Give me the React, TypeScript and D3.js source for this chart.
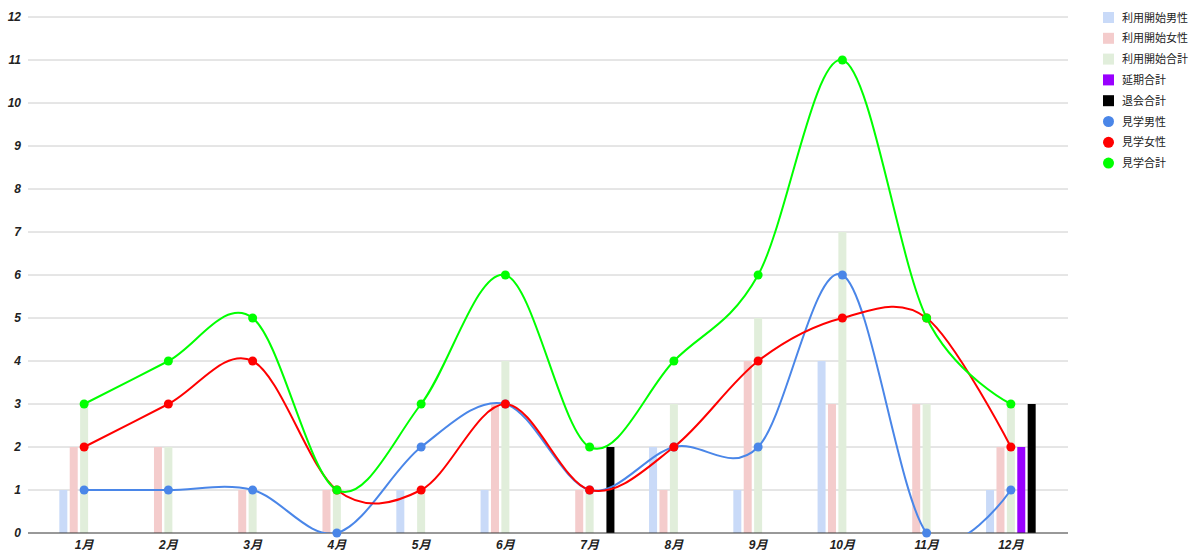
import React, { useEffect, useRef } from 'react';
import * as d3 from 'd3';

const months = ['1月', '2月', '3月', '4月', '5月', '6月', '7月', '8月', '9月', '10月', '11月', '12月'];

// bar series
const startMale = [1, 0, 0, 0, 1, 1, 0, 2, 1, 4, 0, 1];
const startFemale = [2, 2, 1, 1, 0, 3, 1, 1, 4, 3, 3, 2];
const startTotal = [3, 2, 1, 1, 1, 4, 1, 3, 5, 7, 3, 3];
const postponeTotal = [0, 0, 0, 0, 0, 0, 0, 0, 0, 0, 0, 2];
const quitTotal = [0, 0, 0, 0, 0, 0, 2, 0, 0, 0, 0, 3];

// line series
const visitMale = [1, 1, 1, 0, 2, 3, 1, 2, 2, 6, 0, 1];
const visitFemale = [2, 3, 4, 1, 1, 3, 1, 2, 4, 5, 5, 2];
const visitTotal = [3, 4, 5, 1, 3, 6, 2, 4, 6, 11, 5, 3];

const yTicks = [0, 1, 2, 3, 4, 5, 6, 7, 8, 9, 10, 11, 12];

const barSeries = [
  { name: '利用開始男性', values: startMale, color: '#c9daf8' },
  { name: '利用開始女性', values: startFemale, color: '#f4cccc' },
  { name: '利用開始合計', values: startTotal, color: '#e1eedb' },
  { name: '延期合計', values: postponeTotal, color: '#9900ff' },
  { name: '退会合計', values: quitTotal, color: '#000000' },
];

const lineSeries = [
  { name: '見学男性', values: visitMale, color: '#4a86e8' },
  { name: '見学女性', values: visitFemale, color: '#ff0000' },
  { name: '見学合計', values: visitTotal, color: '#00ff00' },
];

const W = 1193;
const H = 553;
const FONT = "Arial, 'Liberation Sans', 'Noto Sans CJK JP', sans-serif";

const App: React.FC = () => {
  const svgRef = useRef<SVGSVGElement>(null);

  useEffect(() => {
    if (!svgRef.current) return;
    const svg = d3.select(svgRef.current);
    svg.selectAll('*').remove();

    const plot = { left: 28, right: 1068, top: 17, bottom: 533 };

    const x = d3.scaleBand<string>().domain(months).range([42, 1053]);
    const cx = (m: string) => (x(m) || 0) + x.bandwidth() / 2;
    const y = d3.scaleLinear().domain([0, 12]).range([plot.bottom, plot.top]);

    const defs = svg.append('defs');
    defs.append('clipPath').attr('id', 'plot-clip')
      .append('rect')
      .attr('x', plot.left).attr('y', 0)
      .attr('width', plot.right - plot.left).attr('height', plot.bottom);

    // gridlines
    svg.append('g').selectAll('line')
      .data(yTicks.filter(t => t > 0))
      .join('line')
      .attr('x1', plot.left).attr('x2', plot.right)
      .attr('y1', d => y(d)).attr('y2', d => y(d))
      .attr('stroke', '#cccccc').attr('stroke-width', 1);

    // y labels
    svg.append('g').selectAll('text')
      .data(yTicks)
      .join('text')
      .attr('x', 21).attr('y', d => y(d) + 4)
      .attr('text-anchor', 'end')
      .attr('font-family', FONT).attr('font-size', 12)
      .attr('font-weight', 'bold').attr('font-style', 'italic')
      .attr('fill', '#222')
      .text(d => String(d));

    // bars
    const step = 10.4;
    const bw = 8;
    barSeries.forEach((s, si) => {
      svg.append('g').selectAll('rect')
        .data(s.values.map((v, i) => ({ v, m: months[i] })).filter(d => d.v > 0))
        .join('rect')
        .attr('x', d => cx(d.m) + (si - 2) * step - bw / 2)
        .attr('y', d => y(d.v))
        .attr('width', bw)
        .attr('height', d => y(0) - y(d.v))
        .attr('fill', s.color);
    });

    // baseline
    svg.append('line')
      .attr('x1', plot.left).attr('x2', plot.right)
      .attr('y1', y(0)).attr('y2', y(0))
      .attr('stroke', '#333333').attr('stroke-width', 1);

    // lines
    const line = d3.line<number>()
      .curve(d3.curveCardinal.tension(0))
      .x((_, i) => cx(months[i]))
      .y(d => y(d));

    const lg = svg.append('g').attr('clip-path', 'url(#plot-clip)');
    lineSeries.forEach(s => {
      lg.append('path')
        .datum(s.values)
        .attr('d', line)
        .attr('fill', 'none')
        .attr('stroke', s.color)
        .attr('stroke-width', 2);
    });
    lineSeries.forEach(s => {
      svg.append('g').selectAll('circle')
        .data(s.values)
        .join('circle')
        .attr('cx', (_, i) => cx(months[i]))
        .attr('cy', d => y(d))
        .attr('r', 4.5)
        .attr('fill', s.color);
    });

    // x labels
    svg.append('g').selectAll('text')
      .data(months)
      .join('text')
      .attr('x', d => cx(d)).attr('y', 549)
      .attr('text-anchor', 'middle')
      .attr('font-family', FONT).attr('font-size', 12)
      .attr('font-weight', 'bold').attr('font-style', 'italic')
      .attr('fill', '#222')
      .text(d => d);

    // legend
    const legend = svg.append('g').attr('transform', 'translate(1103,17)');
    const items = [
      ...barSeries.map(s => ({ name: s.name, color: s.color, shape: 'rect' })),
      ...lineSeries.map(s => ({ name: s.name, color: s.color, shape: 'circle' })),
    ];
    items.forEach((it, i) => {
      const g = legend.append('g').attr('transform', `translate(0,${i * 20.8})`);
      if (it.shape === 'rect') {
        g.append('rect').attr('x', 0).attr('y', -5).attr('width', 11).attr('height', 11).attr('fill', it.color);
      } else {
        g.append('circle').attr('cx', 5.5).attr('cy', 0.5).attr('r', 5.5).attr('fill', it.color);
      }
      g.append('text')
        .attr('x', 19).attr('y', 4.5)
        .attr('font-family', FONT).attr('font-size', 11)
        .attr('fill', '#222')
        .text(it.name);
    });
  }, []);

  return (
    <svg
      ref={svgRef}
      width={W}
      height={H}
      style={{ position: 'absolute', left: 0, top: 0, background: '#fff' }}
    />
  );
};

export default App;
